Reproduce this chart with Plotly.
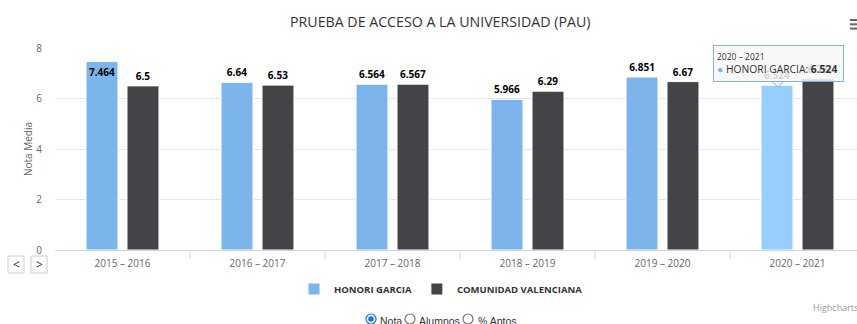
import plotly.graph_objects as go

# ---- data ----
cursos = ["2015 – 2016", "2016 – 2017", "2017 – 2018", "2018 – 2019", "2019 – 2020", "2020 – 2021"]
honori_garcia = [7.464, 6.64, 6.564, 5.966, 6.851, 6.524]
comunidad_valenciana = [6.5, 6.53, 6.567, 6.29, 6.67, 6.78]
serie_nombres = ["HONORI GARCIA", "COMUNIDAD VALENCIANA"]
y_ticks = [0, 2, 4, 6, 8]
opciones = ["Nota", "Alumnos", "% Aptos"]

W, H = 857, 324
ML, MR, MT, MB = 55, 0, 48, 74
PW, PH = W - ML - MR, H - MT - MB
CAT_PX = 135  # pixel width of one category slot


def xp(px):
    return (px - ML) / PW


def yp(py):
    return (H - MB - py) / PH


BLUE = "#7cb5ec"
BLUE_HOVER = "#95ceff"
DARK = "#434348"
FONT = "Open Sans"

# highlighted (hovered) point: last course of the first series
hover_idx = len(cursos) - 1
blue_colors = [BLUE] * len(cursos)
blue_colors[hover_idx] = BLUE_HOVER

# data labels: the tallest one sits inside the bar top
blue_pos = ["inside" if v > 7.2 else "outside" for v in honori_garcia]

label_font = dict(family=FONT, size=10, color="#000", weight="bold")

fig = go.Figure()
fig.add_trace(go.Bar(
    name=serie_nombres[0], x=cursos, y=honori_garcia,
    marker=dict(color=blue_colors, line=dict(color="white", width=1)),
    text=[str(v) for v in honori_garcia], texttemplate="%{text}",
    textposition=blue_pos, insidetextanchor="end", textangle=0,
    constraintext="none", cliponaxis=False, textfont=label_font,
))
fig.add_trace(go.Bar(
    name=serie_nombres[1], x=cursos, y=comunidad_valenciana,
    marker=dict(color=DARK, line=dict(color="white", width=1)),
    text=[str(v) for v in comunidad_valenciana], texttemplate="%{text}",
    textposition="outside", textangle=0, constraintext="none", cliponaxis=False,
    textfont=label_font,
))

shapes = []
# category boundary tick marks on the x axis
for i in range(len(cursos) - 1):
    shapes.append(dict(type="line", xref="x", yref="paper", x0=i + 0.5, x1=i + 0.5,
                       y0=0, y1=yp(H - MB + 9), line=dict(color="#ccd6eb", width=1)))

# context menu icon (top right)
for py in (20, 24.3, 28.6):
    shapes.append(dict(type="line", xref="paper", yref="paper", x0=xp(850), x1=xp(858),
                       y0=yp(py), y1=yp(py), line=dict(color="#666", width=2)))

# navigation buttons
for x0 in (8, 31):
    shapes.append(dict(type="rect", xref="paper", yref="paper", x0=xp(x0), x1=xp(x0 + 16),
                       y0=yp(256), y1=yp(273), line=dict(color="#cccccc", width=1),
                       fillcolor="white"))

# tooltip pointer
shapes.append(dict(type="path", xref="paper", yref="paper",
                   path=f"M {xp(772)} {yp(81.5)} L {xp(778)} {yp(87)} L {xp(784)} {yp(81.5)} Z",
                   fillcolor="rgba(247,247,247,0.9)", line=dict(color=BLUE, width=1)))

# radio buttons
radio_cx = [371, 410, 468]
RY = 319
for i, cx in enumerate(radio_cx):
    r = 5
    col = "#1a73e8" if i == 0 else "#767676"
    shapes.append(dict(type="circle", xref="paper", yref="paper",
                       x0=xp(cx - r), x1=xp(cx + r), y0=yp(RY - r), y1=yp(RY + r),
                       line=dict(color=col, width=1.2), fillcolor="white"))
    if i == 0:
        shapes.append(dict(type="circle", xref="paper", yref="paper",
                           x0=xp(cx - 2.8), x1=xp(cx + 2.8), y0=yp(RY - 2.8), y1=yp(RY + 2.8),
                           line=dict(width=0), fillcolor="#1a73e8"))

annotations = [
    dict(text="PRUEBA DE ACCESO A LA UNIVERSIDAD (PAU)", xref="paper", yref="paper",
         x=xp(440), y=yp(21), xanchor="center", yanchor="middle", showarrow=False,
         font=dict(family=FONT, size=14.2, color="#333333")),
    dict(text="Nota Media", xref="paper", yref="paper", x=xp(28), y=yp(149),
         xanchor="center", yanchor="middle", textangle=-90, showarrow=False,
         font=dict(family=FONT, size=10, color="#666666")),
    dict(text="&lt;", xref="paper", yref="paper", x=xp(16), y=yp(264.5), showarrow=False,
         xanchor="center", yanchor="middle", font=dict(family=FONT, size=12, color="#333")),
    dict(text="&gt;", xref="paper", yref="paper", x=xp(39), y=yp(264.5), showarrow=False,
         xanchor="center", yanchor="middle", font=dict(family=FONT, size=12, color="#333")),
    dict(text="Highcharts.com", xref="paper", yref="paper", x=xp(811), y=yp(307),
         xanchor="left", yanchor="middle", showarrow=False,
         font=dict(family=FONT, size=9, color="#999999")),
    dict(text=(f"<span style='font-size:8.5px'>{cursos[hover_idx]}</span><br>"
               f"<span style='color:{BLUE}'>●</span> {serie_nombres[0]}: "
               f"<b>{honori_garcia[hover_idx]}</b>"),
         xref="paper", yref="paper", x=xp(713), y=yp(45), xanchor="left", yanchor="top",
         align="left", valign="middle", showarrow=False, width=123, height=29,
         bgcolor="rgba(247,247,247,0.85)", bordercolor=BLUE, borderwidth=1, borderpad=3,
         font=dict(family=FONT, size=10.3, color="#333333")),
]
radio_tx = [378, 417, 476]
for txt, tx in zip(opciones, radio_tx):
    annotations.append(dict(text=txt, xref="paper", yref="paper", x=xp(tx), y=yp(320.5),
                            xanchor="left", yanchor="middle", showarrow=False,
                            font=dict(family="Liberation Sans", size=10.5, color="#333333")))

fig.update_layout(
    width=W, height=H,
    margin=dict(l=ML, r=MR, t=MT, b=MB, pad=0),
    paper_bgcolor="white", plot_bgcolor="white",
    barmode="group", bargap=0.393, bargroupgap=0.22,
    font=dict(family=FONT, color="#666666"),
    hovermode=False,
    showlegend=True,
    legend=dict(orientation="h", xref="container", yref="container",
                x=441 / W, xanchor="center", y=1 - 289 / H, yanchor="middle",
                font=dict(family=FONT, size=9.5, color="#333333", weight="bold"),
                itemclick=False, itemdoubleclick=False),
    xaxis=dict(type="category", range=[-0.5, -0.5 + PW / CAT_PX], showgrid=False,
               showline=True, linecolor="#ccd6eb", linewidth=1,
               ticks="outside", ticklen=4, tickcolor="rgba(0,0,0,0)",
               tickfont=dict(family=FONT, size=10, color="#666666"), fixedrange=True),
    yaxis=dict(range=[0, 8], tickvals=y_ticks, showgrid=True, gridcolor="#e6e6e6",
               zeroline=False, showline=False, ticks="outside", ticklen=10,
               tickcolor="rgba(0,0,0,0)",
               tickfont=dict(family=FONT, size=10, color="#666666"),
               fixedrange=True),
    shapes=shapes,
    annotations=annotations,
)

fig.write_html("out.html", config={"displayModeBar": False})
